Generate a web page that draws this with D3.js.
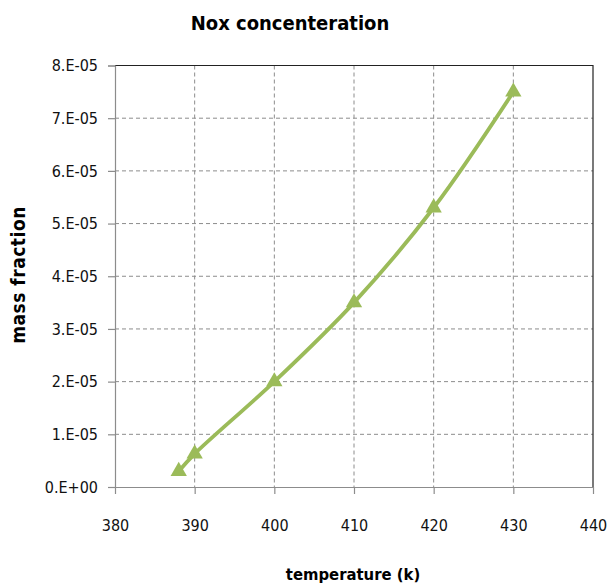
<!DOCTYPE html>
<html><head><meta charset="utf-8">
<script src="https://cdn.jsdelivr.net/npm/d3@7"></script>
<style>body{margin:0;background:#fff}svg{display:block}</style>
</head><body>
<svg id="c" width="610" height="585"></svg>
<script>
const temperature = [388, 390, 400, 410, 420, 430];
const massFraction = [3.0e-6, 6.3e-6, 2.0e-5, 3.5e-5, 5.3e-5, 7.5e-5];
const xTicks = [380, 390, 400, 410, 420, 430, 440];
const yTicks = [0, 1e-5, 2e-5, 3e-5, 4e-5, 5e-5, 6e-5, 7e-5, 8e-5];
const yTickLabels = ["0.E+00","1.E-05","2.E-05","3.E-05","4.E-05","5.E-05","6.E-05","7.E-05","8.E-05"];

const FONT = "'Liberation Sans Narrow','DejaVu Sans Condensed','Open Sans',sans-serif";
const svg = d3.select("#c");
const L = 115, R = 593, T = 65.5, B = 487;
const x = d3.scaleLinear().domain([380, 440]).range([L, R]);
const y = d3.scaleLinear().domain([0, 8e-5]).range([B, T]);

// gridlines
const g = svg.append("g");
g.selectAll(".gy").data(yTicks.slice(1, -1)).join("line")
  .attr("x1", L).attr("x2", R).attr("y1", d => y(d)).attr("y2", d => y(d))
  .attr("stroke", "#8c8c8c").attr("stroke-width", 1).attr("stroke-dasharray", "4,3");
g.selectAll(".gx").data(xTicks.slice(1, -1)).join("line")
  .attr("y1", T).attr("y2", B).attr("x1", d => x(d)).attr("x2", d => x(d))
  .attr("stroke", "#8c8c8c").attr("stroke-width", 1).attr("stroke-dasharray", "4,3");

// border top/right
svg.append("path").attr("d", `M${L},${T}H${R}V${B}`).attr("fill", "none")
  .attr("stroke", "#222").attr("stroke-width", 1.2);

// axes
const yAxis = d3.axisLeft(y).tickValues(yTicks).tickFormat((d, i) => yTickLabels[i]).tickSize(7).tickPadding(10);
const ya = svg.append("g").attr("transform", `translate(${L},0)`).call(yAxis);
const xAxis = d3.axisBottom(x).tickValues(xTicks).tickSize(7).tickPadding(26);
const xa = svg.append("g").attr("transform", `translate(0,${B})`).call(xAxis);
[ya, xa].forEach(a => {
  a.select(".domain").attr("stroke", "#8c8c8c").attr("stroke-width", 1.2);
  a.selectAll(".tick line").attr("stroke", "#8c8c8c").attr("stroke-width", 1.2);
  a.selectAll("text").attr("font-family", FONT).attr("font-size", 16).attr("fill", "#111");
});
xa.select(".domain").attr("d", `M${L},0.5H${R}`);

// line
const color = "#9bbb59";
const pts = temperature.map((t, i) => [t, massFraction[i]]);
svg.append("path").datum(pts)
  .attr("d", d3.line().x(d => x(d[0])).y(d => y(d[1])).curve(d3.curveCatmullRom.alpha(0.5)))
  .attr("fill", "none").attr("stroke", color).attr("stroke-width", 3.8);
svg.selectAll(".m").data(pts).join("path")
  .attr("transform", d => `translate(${x(d[0])},${y(d[1])})`)
  .attr("d", d3.symbol(d3.symbolTriangle, 115))
  .attr("fill", color);

// titles
svg.append("text").attr("x", 290).attr("y", 30).attr("text-anchor", "middle")
  .attr("font-family", FONT).attr("font-weight", "bold").attr("font-size", 20).attr("fill", "#000")
  .text("Nox concenteration");
svg.append("text").attr("x", 353).attr("y", 580).attr("text-anchor", "middle")
  .attr("font-family", FONT).attr("font-weight", "bold").attr("font-size", 16.5).attr("fill", "#000")
  .text("temperature (k)");
svg.append("text").attr("transform", "translate(25,275) rotate(-90)").attr("text-anchor", "middle")
  .attr("font-family", FONT).attr("font-weight", "bold").attr("font-size", 19)
  .attr("letter-spacing", 0.5).attr("fill", "#000")
  .text("mass fraction");
</script>
</body></html>
